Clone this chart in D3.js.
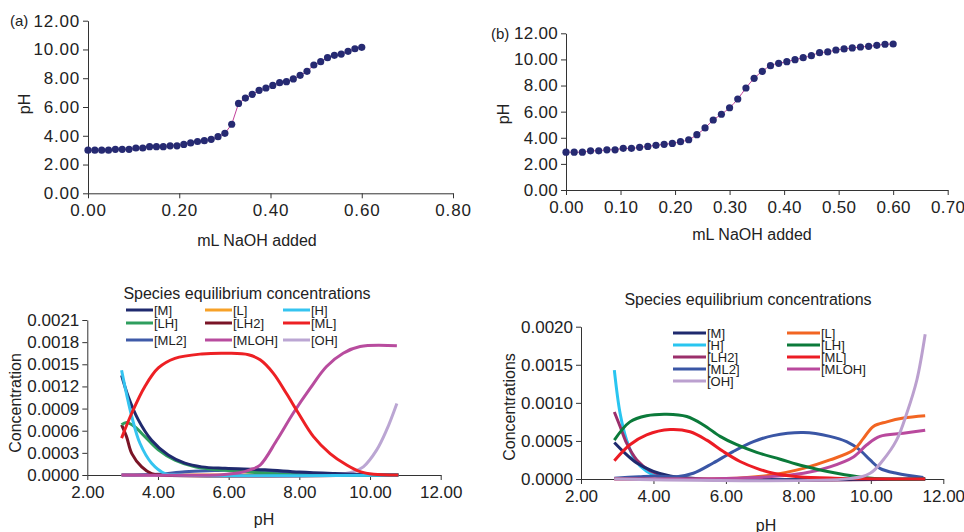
<!DOCTYPE html>
<html>
<head>
<meta charset="utf-8">
<script src="https://cdn.jsdelivr.net/npm/d3@7"></script>
<style>
  body { margin: 0; background: #fff; }
  svg { font-family: "Liberation Sans", Arial, sans-serif; }
  .axis path, .axis line { stroke: #333; }
  .axis text { fill: #222; }
</style>
</head>
<body>
<svg id="chart" width="964" height="532"></svg>
<script>
// ---- titration data (a) and (b): mL NaOH added vs pH ----
const volA = d3.range(41).map(i => +(i * 0.015).toFixed(3));
const pHA = [3.0, 3.0, 3.0, 3.0, 3.06, 3.06, 3.06, 3.15, 3.15, 3.24, 3.24, 3.24, 3.3, 3.3,
  3.4, 3.5, 3.6, 3.66, 3.75, 3.94, 4.17, 4.8, 6.25, 6.62, 6.88, 7.16, 7.32, 7.5, 7.69,
  7.76, 7.95, 8.2, 8.48, 8.92, 9.15, 9.43, 9.59, 9.68, 9.87, 10.05, 10.15];

const volB = d3.range(41).map(i => +(i * 0.015).toFixed(3));
const pHB = [2.9, 2.9, 2.9, 3.0, 3.0, 3.08, 3.08, 3.19, 3.19, 3.27, 3.34, 3.42, 3.5, 3.57,
  3.7, 3.85, 4.24, 4.75, 5.36, 5.8, 6.3, 6.97, 7.81, 8.55, 9.09, 9.52, 9.7, 9.83, 9.98,
  10.13, 10.29, 10.52, 10.57, 10.72, 10.8, 10.88, 10.95, 11.0, 11.08, 11.16, 11.18];

// ---- species distribution, left chart: [pH, concentration] ----
const leftM = [[2.97, 0.00135], [3.16, 0.00106], [3.44, 0.00075], [3.82, 0.00047], [4.29, 0.00027],
  [4.76, 0.00016], [5.24, 0.00011], [5.9, 0.00009], [7.03, 0.00007], [8.0, 0.00004],
  [9.0, 0.00002], [10.0, 0.000005], [10.8, 0]];
const leftL = [[2.97, 0], [10.8, 0]];
const leftH = [[2.97, 0.00142], [3.11, 0.0011], [3.26, 0.00079], [3.49, 0.00043], [3.82, 0.00016],
  [4.2, 0.00002], [4.6, 0], [10.8, 0]];
const leftLH = [[2.97, 0.00068], [3.11, 0.00071], [3.35, 0.00065], [3.63, 0.00052], [4.01, 0.00034],
  [4.48, 0.0002], [5.05, 0.00011], [5.71, 0.00007], [6.46, 0.000045], [7.2, 0.00002], [8.0, 0], [10.8, 0]];
const leftLH2 = [[2.97, 0.00068], [3.11, 0.00052], [3.26, 0.00029], [3.54, 0.00011], [3.82, 0.00002],
  [4.1, 0], [10.8, 0]];
const leftML = [[2.97, 0.0005], [3.26, 0.00084], [3.63, 0.0012], [4.01, 0.00145], [4.48, 0.00158],
  [5.24, 0.00164], [5.99, 0.00165], [6.56, 0.00163], [6.89, 0.00156], [7.26, 0.00138], [7.64, 0.0011],
  [7.97, 0.00084], [8.4, 0.00052], [8.87, 0.00029], [9.34, 0.000135], [9.72, 0.000045],
  [10.1, 0.00001], [10.8, 0]];
const leftML2 = [[2.97, 0], [4.0, 0.00001], [4.76, 0.000045], [5.6, 0.00006], [6.5, 0.00007],
  [6.88, 0.000055], [7.83, 0.00003], [9.0, 0.00001], [10.8, 0]];
const leftMLOH = [[2.97, 0], [5.8, 0.000005], [6.3, 0.00003], [6.6, 0.00007], [6.89, 0.000135],
  [7.36, 0.00047], [7.83, 0.00084], [8.3, 0.00117], [8.77, 0.00147], [9.24, 0.00165],
  [9.72, 0.00174], [10.76, 0.00175]];
const leftOH = [[2.97, 0], [9.0, 0.000005], [9.53, 0.000045], [9.81, 0.00011], [10.19, 0.00034],
  [10.47, 0.00061], [10.76, 0.00097]];

// ---- species distribution, right chart ----
const rightM = [[2.92, 0.00048], [3.17, 0.00036], [3.54, 0.00021], [4.0, 0.0001], [4.46, 0.00004],
  [4.82, 0.00002], [5.4, 0], [11.5, 0]];
const rightL = [[2.92, 0], [6.0, 0.000005], [7.22, 0.00005], [8.14, 0.00014], [8.87, 0.00025],
  [9.52, 0.00038], [9.79, 0.00053], [10.07, 0.00069], [10.44, 0.00075], [10.9, 0.0008], [11.5, 0.00083]];
const rightH = [[2.92, 0.00143], [3.08, 0.00086], [3.26, 0.00051], [3.49, 0.00025], [3.81, 0.0001],
  [4.18, 0.00002], [4.8, 0], [11.5, 0]];
const rightLH = [[2.92, 0.00051], [3.35, 0.00075], [3.81, 0.00083], [4.37, 0.00085], [4.92, 0.00082],
  [5.38, 0.00071], [5.84, 0.00056], [6.3, 0.00045], [6.85, 0.00035], [7.5, 0.00026], [8.14, 0.00017],
  [9.06, 0.000075], [9.79, 0.00002], [10.5, 0], [11.5, 0]];
const rightLH2 = [[2.92, 0.00088], [3.08, 0.00069], [3.26, 0.00047], [3.54, 0.00025], [3.9, 0.00011],
  [4.37, 0.00004], [5.0, 0], [11.5, 0]];
const rightML = [[2.92, 0.00024], [3.35, 0.00045], [3.81, 0.00058], [4.46, 0.00065], [5.01, 0.00062],
  [5.47, 0.00051], [5.93, 0.00036], [6.39, 0.00023], [6.85, 0.00014], [7.31, 0.000075],
  [8.0, 0.00003], [9.0, 0.00001], [11.5, 0]];
const rightML2 = [[2.92, 0.00001], [3.6, 0.00003], [4.09, 0.00004], [4.64, 0.00003], [5.1, 0.000075],
  [5.65, 0.00021], [6.2, 0.00036], [6.76, 0.00049], [7.3, 0.00057], [8.14, 0.00061], [8.87, 0.00056],
  [9.33, 0.00049], [9.7, 0.00038], [9.98, 0.00025], [10.25, 0.00014], [10.71, 0.000075], [11.45, 0.00002]];
const rightMLOH = [[2.92, 0], [6.0, 0.000005], [7.22, 0.00003], [8.14, 0.000075], [8.87, 0.00016],
  [9.52, 0.00029], [9.89, 0.00045], [10.25, 0.00056], [10.9, 0.0006], [11.5, 0.00064]];
const rightOH = [[2.92, 0], [9.4, 0.000005], [9.98, 0.000075], [10.34, 0.00025], [10.71, 0.00051],
  [10.99, 0.00086], [11.27, 0.0013], [11.5, 0.0019]];

const leftNames = ['[M]', '[L]', '[H]', '[LH]', '[LH2]', '[ML]', '[ML2]', '[MLOH]', '[OH]'];
const leftColors = ['#1f2a6e', '#f7a128', '#35c4f0', '#2e9e5e', '#7a1426', '#ed2024', '#3f5aa8', '#b84c9e', '#bba6d3'];
const leftSeries = [leftM, leftL, leftH, leftLH, leftLH2, leftML, leftML2, leftMLOH, leftOH];

const rightNames = ['[M]', '[L]', '[H]', '[LH]', '[LH2]', '[ML]', '[ML2]', '[MLOH]', '[OH]'];
const rightColors = ['#1f2a6e', '#f26522', '#29c5f0', '#0b7a3a', '#9b2f6b', '#ec1c24', '#3a56a5', '#b9499d', '#bba0cf'];
const rightSeries = [rightM, rightL, rightH, rightLH, rightLH2, rightML, rightML2, rightMLOH, rightOH];

const svg = d3.select('#chart');

// ---------- helpers ----------
function axes(x, y, xTicks, yTicks, xFmt, yFmt, spacing) {
  const g = svg.append('g');
  const y0 = y.range()[0], x0 = x.range()[0];
  const style = s => s.selectAll('text').style('font-size', '17px').style('letter-spacing', spacing + 'px');
  g.append('g').attr('class', 'axis')
    .attr('transform', `translate(0,${y0})`)
    .call(d3.axisBottom(x).tickValues(xTicks).tickFormat(xFmt).tickSize(5).tickSizeOuter(0).tickPadding(6))
    .call(style);
  g.append('g').attr('class', 'axis')
    .attr('transform', `translate(${x0},0)`)
    .call(d3.axisLeft(y).tickValues(yTicks).tickFormat(yFmt).tickSize(5).tickSizeOuter(0).tickPadding(3))
    .call(style);
  return g;
}

function label(x, y, text, size, rotate) {
  const t = svg.append('text')
    .attr('text-anchor', 'middle')
    .attr('dominant-baseline', 'central')
    .style('font-size', size + 'px')
    .attr('fill', '#222')
    .text(text);
  if (rotate) t.attr('transform', `translate(${x},${y}) rotate(-90)`);
  else t.attr('x', x).attr('y', y);
}

// ---------- (a) ----------
const xa = d3.scaleLinear().domain([0, 0.8]).range([88, 453]);
const ya = d3.scaleLinear().domain([0, 12]).range([193.3, 20.7]);
axes(xa, ya, d3.range(0, 0.81, 0.2), d3.range(0, 12.1, 2), d3.format('.2f'), d3.format('.2f'), 0.8);
svg.append('path').datum(volA.map((v, i) => [v, pHA[i]]))
  .attr('fill', 'none').attr('stroke', '#c2409a').attr('stroke-width', 1)
  .attr('d', d3.line().x(d => xa(d[0])).y(d => ya(d[1])));
svg.append('g').selectAll('circle').data(volA.map((v, i) => [v, pHA[i]])).join('circle')
  .attr('cx', d => xa(d[0])).attr('cy', d => ya(d[1])).attr('r', 3.6).attr('fill', '#262a72');
label(257, 240, 'mL NaOH added', 16);
label(24, 104, 'pH', 16, true);
svg.append('text').attr('x', 10).attr('y', 26).style('font-size', '15px').attr('fill', '#222').text('(a)');

// ---------- (b) ----------
const xb = d3.scaleLinear().domain([0, 0.7]).range([566, 947.7]);
const yb = d3.scaleLinear().domain([0, 12]).range([190, 33.3]);
axes(xb, yb, d3.range(0, 0.71, 0.1), d3.range(0, 12.1, 2), d3.format('.2f'), d3.format('.2f'), 0.3);
svg.append('path').datum(volB.map((v, i) => [v, pHB[i]]))
  .attr('fill', 'none').attr('stroke', '#c2409a').attr('stroke-width', 1)
  .attr('d', d3.line().curve(d3.curveMonotoneX).x(d => xb(d[0])).y(d => yb(d[1])));
svg.append('g').selectAll('circle').data(volB.map((v, i) => [v, pHB[i]])).join('circle')
  .attr('cx', d => xb(d[0])).attr('cy', d => yb(d[1])).attr('r', 3.6).attr('fill', '#262a72');
label(752, 234, 'mL NaOH added', 16);
label(503, 114, 'pH', 16, true);
svg.append('text').attr('x', 491).attr('y', 39).style('font-size', '15px').attr('fill', '#222').text('(b)');

// ---------- species charts ----------
function species(x, y, series, colors, order) {
  const line = d3.line().curve(d3.curveCatmullRom.alpha(0.5)).x(d => x(d[0])).y(d => y(d[1]));
  svg.append('g').selectAll('path').data(order).join('path')
    .attr('fill', 'none').attr('stroke-width', 3).attr('stroke-linejoin', 'round')
    .attr('stroke', i => colors[i])
    .attr('d', i => line(series[i]));
}

function legend(items, colors, cols, rows, lineLen, fontSize) {
  const g = svg.append('g');
  items.forEach((name, i) => {
    const c = cols[i], r = rows[i];
    g.append('line').attr('x1', c).attr('x2', c + lineLen).attr('y1', r).attr('y2', r)
      .attr('stroke', colors[i]).attr('stroke-width', 3);
    g.append('text').attr('x', c + lineLen + 1).attr('y', r).attr('dominant-baseline', 'central')
      .style('font-size', fontSize + 'px').attr('fill', '#222').text(name);
  });
}

// left
const xl = d3.scaleLinear().domain([2, 12]).range([87.3, 440.7]);
const yl = d3.scaleLinear().domain([0, 0.0021]).range([475, 320]);
axes(xl, yl, d3.range(2, 12.1, 2), d3.range(0, 0.00211, 0.0003), d3.format('.2f'), d3.format('.4f'), 0);
species(xl, yl, leftSeries, leftColors, [1, 8, 6, 4, 3, 0, 2, 7, 5]);
label(247, 293, 'Species equilibrium concentrations', 16);
label(15, 403, 'Concentration', 16, true);
label(264, 519, 'pH', 16);
legend(leftNames, leftColors,
  [126, 205, 283, 126, 205, 283, 126, 205, 283],
  [310, 310, 310, 323, 323, 323, 340, 340, 340], 27, 13);

// right
const xr = d3.scaleLinear().domain([2, 12]).range([581, 943.3]);
const yr = d3.scaleLinear().domain([0, 0.002]).range([479, 326.7]);
axes(xr, yr, d3.range(2, 12.1, 2), d3.range(0, 0.00201, 0.0005), d3.format('.2f'), d3.format('.4f'), 0);
species(xr, yr, rightSeries, rightColors, [2, 4, 0, 6, 1, 7, 3, 5, 8]);
label(748, 299, 'Species equilibrium concentrations', 16);
label(509, 407, 'Concentrations', 16, true);
label(766, 525, 'pH', 16);
legend(rightNames, rightColors,
  [673, 787, 673, 787, 673, 787, 673, 787, 673],
  [333, 333, 345, 345, 357, 357, 369, 369, 381], 33, 13);
</script>
</body>
</html>
